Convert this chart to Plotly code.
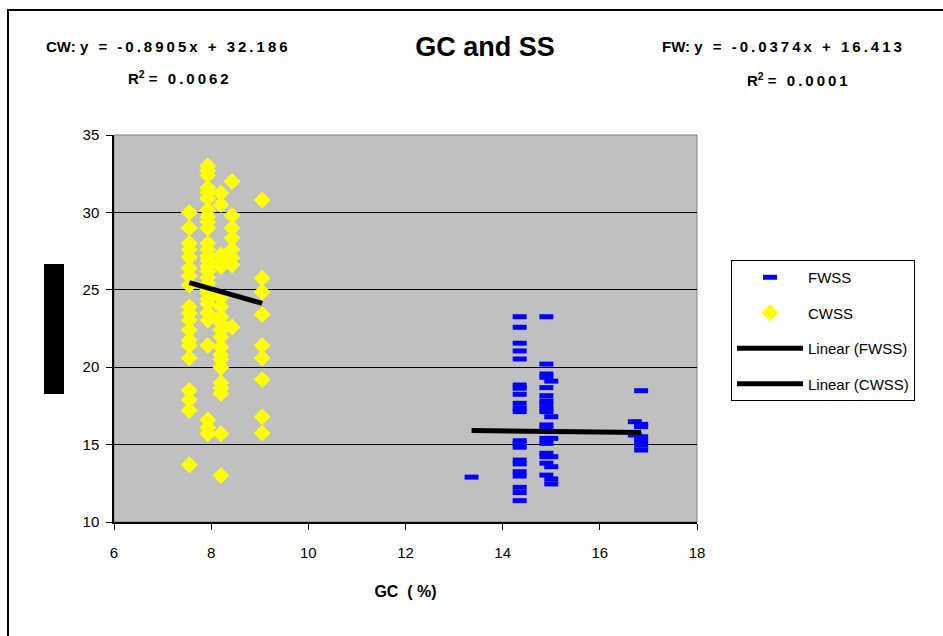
import plotly.graph_objects as go

# ---- data ----
cw_x_755 = [7.55] * 19
cw_y_755 = [30.0, 29.0, 28.0, 27.6, 27.1, 26.4, 25.9, 25.3, 23.9, 23.5, 23.05, 22.4, 21.75, 21.4, 20.6, 18.5, 17.9, 17.2, 13.7]
cw_x_793 = [7.93] * 28
cw_y_793 = [33.0, 32.7, 32.4, 31.6, 31.3, 30.9, 30.15, 29.7, 29.4, 29.0, 28.0, 27.6, 27.2, 26.9, 26.5, 26.2, 25.8, 25.4,
            25.0, 24.8, 24.4, 24.1, 23.5, 23.05, 21.4, 16.6, 16.1, 15.7]
cw_x_820 = [8.2] * 20
cw_y_820 = [31.25, 30.5, 27.25, 26.8, 26.5, 24.5, 23.9, 23.25, 22.85, 22.4, 21.95, 21.3, 20.8, 20.5, 20.0, 19.0, 18.65, 18.3, 15.7, 13.0]
cw_x_843 = [8.43] * 8
cw_y_843 = [32.0, 29.8, 29.0, 28.35, 27.6, 27.05, 26.6, 22.6]
cw_x_905 = [9.05] * 9
cw_y_905 = [30.8, 25.75, 24.85, 23.4, 21.4, 20.6, 19.2, 16.8, 15.75]

fw_x_1336 = [13.36]
fw_y_1336 = [12.9]
fw_x_1435 = [14.35] * 21
fw_y_1435 = [23.26, 22.58, 21.55, 21.05, 20.53, 18.85, 18.64, 18.25, 17.67, 17.35, 17.13, 15.25, 15.08, 14.83, 14.0,
             13.75, 13.25, 12.97, 12.24, 11.9, 11.38]
fw_x_1490 = [14.9] * 18
fw_y_1490 = [23.26, 20.2, 19.56, 19.35, 18.68, 18.16, 17.82, 17.56, 17.3, 17.13, 16.27, 16.05, 15.4, 15.08, 14.44,
             14.22, 13.8, 13.03]
fw_x_1500 = [15.0] * 7
fw_y_1500 = [19.1, 16.8, 15.4, 14.22, 13.57, 12.78, 12.46]
fw_x_1672 = [16.72] * 2
fw_y_1672 = [16.48, 15.62]
fw_x_1685 = [16.85] * 7
fw_y_1685 = [18.48, 16.31, 16.16, 15.51, 15.2, 14.97, 14.65]

cw_slope, cw_intercept, cw_r2 = -0.8905, 32.186, "0.0062"
fw_slope, fw_intercept, fw_r2 = -0.0374, 16.413, "0.0001"

x_ticks = [6, 8, 10, 12, 14, 16, 18]
y_ticks = [10, 15, 20, 25, 30, 35]

cw_x = cw_x_755 + cw_x_793 + cw_x_820 + cw_x_843 + cw_x_905
cw_y = cw_y_755 + cw_y_793 + cw_y_820 + cw_y_843 + cw_y_905
fw_x = fw_x_1336 + fw_x_1435 + fw_x_1490 + fw_x_1500 + fw_x_1672 + fw_x_1685
fw_y = fw_y_1336 + fw_y_1435 + fw_y_1490 + fw_y_1500 + fw_y_1672 + fw_y_1685

FONT = "Arial, Liberation Sans, sans-serif"
TS = "\u2009"  # thin space, imitates the wide letter spacing of the original


def spaced(s):
    return TS.join(s)


fig = go.Figure()
fig.add_trace(go.Scatter(x=fw_x, y=fw_y, mode="markers", name="FWSS", legendgroup="a",
                         marker=dict(symbol="line-ew", size=10, line=dict(width=5, color="#0000FF"), color="#0000FF")))
fig.add_trace(go.Scatter(x=cw_x, y=cw_y, mode="markers", name="CWSS", legendgroup="b",
                         marker=dict(symbol="diamond", size=13, color="#FFFF00", line=dict(width=0))))
fx = [min(fw_x), max(fw_x)]
fig.add_trace(go.Scatter(x=fx, y=[fw_slope * v + fw_intercept for v in fx], mode="lines", name="Linear (FWSS)",
                         legendgroup="c", line=dict(color="black", width=5)))
cx = [min(cw_x), max(cw_x)]
fig.add_trace(go.Scatter(x=cx, y=[cw_slope * v + cw_intercept for v in cx], mode="lines", name="Linear (CWSS)",
                         legendgroup="d", line=dict(color="black", width=5)))

L, R, T, B = 114, 697, 135, 522
W, H = 943, 636
pw, ph = R - L, B - T


def px(x):
    return (x - L) / pw


def py(y):
    return (B - y) / ph


fig.update_layout(
    width=W, height=H,
    margin=dict(l=L, r=W - R, t=T, b=H - B),
    paper_bgcolor="white", plot_bgcolor="#C0C0C0",
    font=dict(family=FONT, size=15, color="black"),
    title=dict(text="<b>GC and SS</b>", x=485 / W, y=1 - 47 / H, xanchor="center", yanchor="middle",
               font=dict(size=27, family=FONT)),
    showlegend=True,
    legend=dict(x=px(731), y=py(260), xanchor="left", yanchor="top", bgcolor="white",
                bordercolor="black", borderwidth=1, font=dict(size=15, family=FONT),
                itemwidth=66, tracegroupgap=13, traceorder="grouped",
                entrywidth=150, entrywidthmode="pixels"),
    xaxis=dict(range=[6, 18], tickvals=x_ticks, showgrid=False, zeroline=False, showline=True,
               linecolor="black", linewidth=1.5, ticks="outside", ticklen=6, tickcolor="black",
               ticklabelstandoff=10,
               title=dict(text="<b>GC  ( %)</b>", font=dict(size=16, family=FONT), standoff=26)),
    yaxis=dict(range=[10, 35], tickvals=y_ticks, showgrid=True, gridcolor="black", gridwidth=1,
               zeroline=False, showline=True, linecolor="black", linewidth=1.5, ticks="outside",
               ticklen=6, tickcolor="black", ticklabelstandoff=4),
    shapes=[
        dict(type="rect", xref="paper", yref="paper", x0=0, x1=1, y0=0, y1=1,
             line=dict(color="#808080", width=1), layer="below"),
        dict(type="rect", xref="paper", yref="paper", x0=px(44), x1=px(64), y0=py(394), y1=py(264),
             line=dict(width=0), fillcolor="black"),
        dict(type="rect", xref="paper", yref="paper", x0=px(8), x1=px(965), y0=py(665), y1=py(10),
             line=dict(color="black", width=2)),
    ],
    annotations=[
        dict(text="<b>CW: " + spaced("y = -0.8905x + 32.186") + "</b>", xref="paper", yref="paper",
             x=px(167), y=py(47), showarrow=False, font=dict(size=15, family=FONT),
             xanchor="center", yanchor="middle"),
        dict(text="<b>R<sup>2</sup> " + spaced("= " + cw_r2) + "</b>", xref="paper", yref="paper",
             x=px(178), y=py(78), showarrow=False, font=dict(size=15, family=FONT),
             xanchor="center", yanchor="middle"),
        dict(text="<b>FW: " + spaced("y = -0.0374x + 16.413") + "</b>", xref="paper", yref="paper",
             x=px(782), y=py(47), showarrow=False, font=dict(size=15, family=FONT),
             xanchor="center", yanchor="middle"),
        dict(text="<b>R<sup>2</sup> " + spaced("= " + fw_r2) + "</b>", xref="paper", yref="paper",
             x=px(797), y=py(80), showarrow=False, font=dict(size=15, family=FONT),
             xanchor="center", yanchor="middle"),
    ],
)

fig.write_html("out.html")
